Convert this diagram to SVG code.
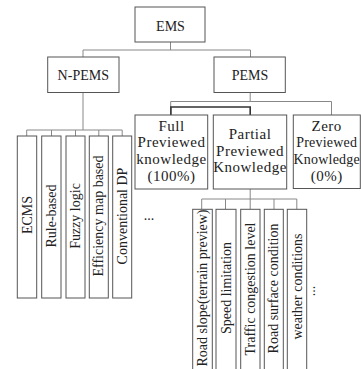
<svg xmlns="http://www.w3.org/2000/svg" width="361" height="369" viewBox="0 0 361 369">
<style>
.box{fill:#fff;stroke:#555;stroke-width:1}
.con{fill:none;stroke:#888;stroke-width:1}
.dark{fill:none;stroke:#333;stroke-width:1.6}
text{font-family:"Liberation Serif","Times New Roman",serif;font-size:14px;fill:#222;text-anchor:middle}
.k{font-size:15px;letter-spacing:0.5px}
.kz{font-size:14px;letter-spacing:0.2px}
</style>
<rect width="361" height="369" fill="#fff"/>
<g id="connectors">
<path class="con" d="M170.5 42V50M83 50H250.5M83 50V57M250.5 50V57"/>
<path class="con" d="M83 92.5V130M26.7 130H122.2M26.7 130V136M51.5 130V136M75.5 130V136M98.8 130V136M122.2 130V136"/>
<path class="con" d="M250.2 92.5V101.5M170.7 101.5H331.5M170.7 101.5V115M331.5 101.5V115"/>
<path class="dark" d="M170.9 115V107H250.2V115"/>
<path class="con" d="M250.2 189V199M201.7 199H296.8M201.7 199V209.3M225.5 199V209.3M250.2 199V209.3M274 199V209.3M296.8 199V209.3"/>
</g>
<g id="ems"><rect class="box" x="135" y="7" width="70" height="35"/><text x="170.5" y="30.5">EMS</text></g>
<g id="npems"><rect class="box" x="47.7" y="57" width="71.3" height="35.5"/><text x="83.3" y="80">N-PEMS</text></g>
<g id="pems"><rect class="box" x="214" y="57" width="71.3" height="35.5"/><text x="250" y="80">PEMS</text></g>
<g id="full"><rect class="box" x="135" y="115" width="72.7" height="74"/>
<text class="k" x="171.5" y="130.7">Full</text><text class="k" x="171.5" y="147.3">Previewed</text><text class="k" x="171.5" y="164">knowledge</text><text class="k" x="171.5" y="180.7">(100%)</text></g>
<g id="partial"><rect class="box" x="213.3" y="115" width="73.4" height="74"/>
<text class="k" x="250" y="139">Partial</text><text class="k" x="250" y="155.7">Previewed</text><text class="k" x="250" y="172.3">Knowledge</text></g>
<g id="zero"><rect class="box" x="293.3" y="115" width="67" height="73.5"/>
<text class="k" x="326.7" y="130.7">Zero</text><text class="kz" x="326.7" y="147.3">Previewed</text><text class="kz" x="326.7" y="164">Knowledge</text><text class="k" x="326.7" y="180.7">(0%)</text></g>
<g id="ecms"><rect class="box" x="17.3" y="136" width="19.4" height="162"/><text transform="translate(31.5,215) rotate(-90)">ECMS</text></g>
<g id="rule"><rect class="box" x="41.7" y="136" width="19.3" height="162"/><text transform="translate(55.8,216) rotate(-90)">Rule-based</text></g>
<g id="fuzzy"><rect class="box" x="66" y="136" width="19" height="162"/><text transform="translate(80,216) rotate(-90)">Fuzzy logic</text></g>
<g id="eff"><rect class="box" x="89.3" y="136" width="19" height="162"/><text transform="translate(103.3,216) rotate(-90)">Efficiency map based</text></g>
<g id="dp"><rect class="box" x="112.7" y="136" width="19" height="162"/><text transform="translate(126.7,216) rotate(-90)">Conventional DP</text></g>
<text x="149" y="220">...</text>
<g id="slope"><rect class="box" x="192.7" y="209.3" width="19.6" height="165"/><text transform="translate(207,288) rotate(-90)">Road slope(terrain preview)</text></g>
<g id="speed"><rect class="box" x="216" y="209.3" width="20" height="165"/><text transform="translate(230.5,288) rotate(-90)">Speed limitation</text></g>
<g id="traffic"><rect class="box" x="240.7" y="209.3" width="19.3" height="165"/><text transform="translate(254.8,289) rotate(-90)">Traffic congestion level</text></g>
<g id="surface"><rect class="box" x="264.3" y="209.3" width="19" height="165"/><text transform="translate(278.3,288.5) rotate(-90)">Road surface condition</text></g>
<g id="weather"><rect class="box" x="287.3" y="209.3" width="19.4" height="165"/><text transform="translate(301.5,286.5) rotate(-90)">weather conditions</text></g>
<text transform="translate(314.5,291) rotate(-90)">...</text>
</svg>
